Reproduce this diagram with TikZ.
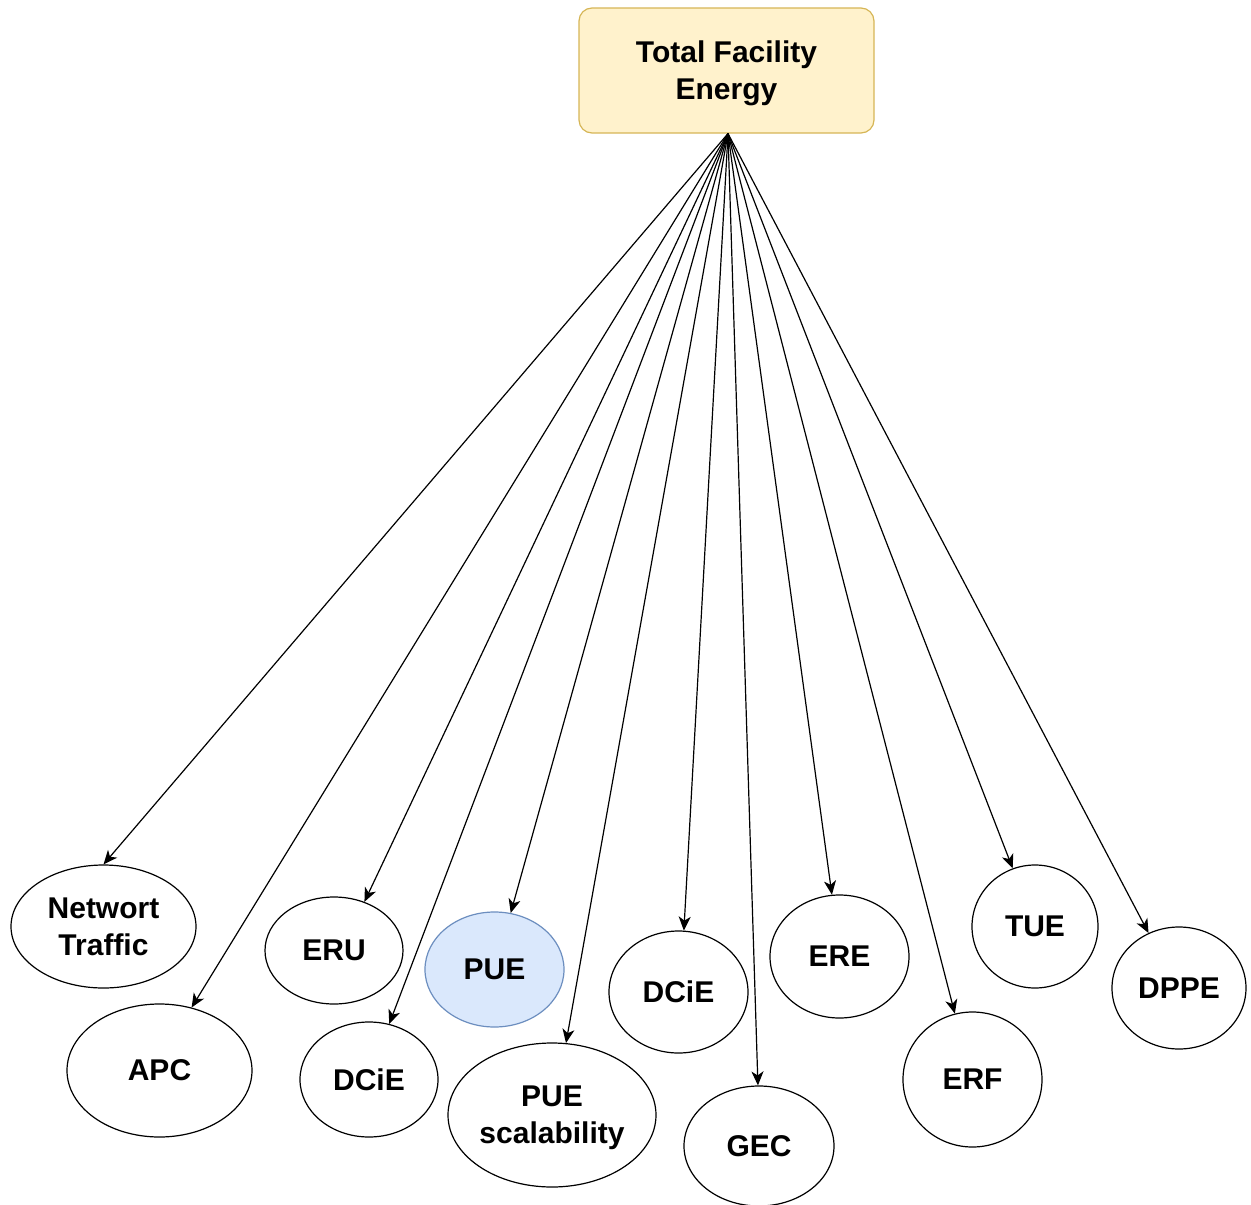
\documentclass[tikz,border=0pt]{standalone}
\usepackage{fontspec}
\setmainfont{Liberation Sans}
\usetikzlibrary{shapes.geometric,arrows.meta}
\definecolor{boxfill}{HTML}{FFF2CC}
\definecolor{boxline}{HTML}{D6B656}
\definecolor{hlfill}{HTML}{DAE8FC}
\definecolor{hlline}{HTML}{6C8EBF}
\begin{document}
\begin{tikzpicture}[x=1pt,y=-1pt,
  lbl/.style={font=\fontsize{30}{37}\selectfont\bfseries, align=center, text=black},
  twoline/.style={text depth=0pt},
  metric/.style={lbl, ellipse, draw=black, line width=1.2pt, fill=white, inner sep=0pt},
  highlight/.style={metric, draw=hlline, fill=hlfill},
  root/.style={lbl, twoline, rectangle, rounded corners=13pt, draw=boxline, fill=boxfill,
    line width=1.2pt, minimum width=295pt, minimum height=125pt, inner sep=0pt},
  link/.style={-{Stealth[length=14pt,width=12pt,inset=4pt]}, line width=1.2pt, black}]
\useasboundingbox (0,0) rectangle (1251,1205);

% source box
\node[root] (top) at (726.5,70.5) {Total Facility\\Energy};

% metric ellipses
\node[metric, twoline, minimum width=185pt, minimum height=123pt] (net) at (103.5,926.5) {Networt\\Traffic};
\node[metric, minimum width=185pt, minimum height=133pt] (apc)  at (159.5,1070.5) {APC};
\node[metric, minimum width=138pt, minimum height=107pt] (eru)  at (334,950.5) {ERU};
\node[metric, minimum width=138pt, minimum height=115pt] (dcieA) at (369,1079.5) {DCiE};
\node[highlight, minimum width=139pt, minimum height=115pt] (pue) at (494.5,969.5) {PUE};
\node[metric, twoline, minimum width=208pt, minimum height=144pt] (pues) at (552,1115) {PUE\\scalability};
\node[metric, minimum width=139pt, minimum height=122pt] (dcieB) at (678.5,992) {DCiE};
\node[metric, minimum width=150pt, minimum height=120pt] (gec)  at (759,1146) {GEC};
\node[metric, minimum width=139pt, minimum height=123pt] (ere)  at (839.5,956.5) {ERE};
\node[metric, minimum width=139pt, minimum height=135pt] (erf)  at (972.5,1079.5) {ERF};
\node[metric, minimum width=126pt, minimum height=123pt] (tue)  at (1035,926.5) {TUE};
\node[metric, minimum width=134pt, minimum height=122pt] (dppe) at (1179,988) {DPPE};

% fan of connectors from the source box
\coordinate (hub) at ([xshift=1.5pt]top.south);
\draw[link] (hub) -- (net.90);
\draw[link] (hub) -- (apc.63.6);
\draw[link] (hub) -- (eru.58.6);
\draw[link] (hub) -- (dcieA.70.5);
\draw[link] (hub) -- (pue.74.9);
\draw[link] (hub) -- (pues.79);
\draw[link] (hub) -- (dcieB.85.8);
\draw[link] (hub) -- (gec.91.9);
\draw[link] (hub) -- (ere.97.9);
\draw[link] (hub) -- (erf.105.5);
\draw[link] (hub) -- (tue.111.1);
\draw[link] (hub) -- (dppe.119.7);
\end{tikzpicture}
\end{document}
